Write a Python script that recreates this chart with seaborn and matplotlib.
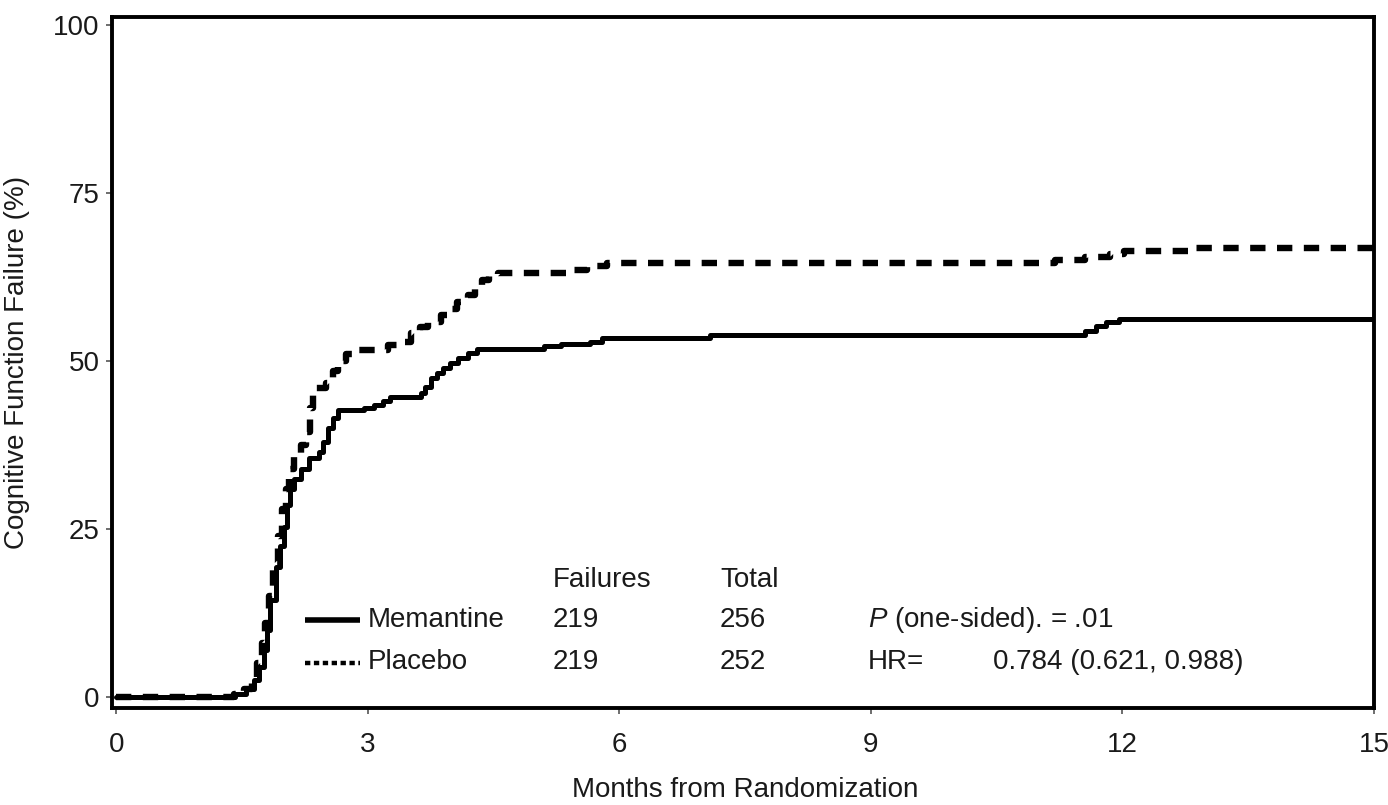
import matplotlib
matplotlib.use("Agg")
import matplotlib.pyplot as plt
import seaborn as sns
import pandas as pd

# ---- data ----
mem_months = [0, 1.42, 1.55, 1.64, 1.70, 1.76, 1.80, 1.84, 1.90, 1.95, 2.00, 2.04, 2.07,
              2.12, 2.20, 2.30, 2.42, 2.47, 2.53, 2.59, 2.65, 2.96, 3.07, 3.18, 3.26,
              3.63, 3.68, 3.75, 3.82, 3.90, 3.98, 4.08, 4.19, 4.30, 5.10, 5.30, 5.65,
              5.79, 7.08, 11.55, 11.68, 11.80, 11.96, 15.0]
mem_fail = [0, 0.5, 1.2, 2.5, 4.5, 7.0, 10.0, 14.4, 19.4, 22.5, 25.3, 28.5, 31.0,
            32.5, 34.0, 35.5, 36.5, 38.0, 40.0, 41.5, 42.7, 43.0, 43.5, 44.0, 44.6,
            45.2, 46.2, 47.4, 48.2, 49.0, 49.7, 50.5, 51.2, 51.8, 52.2, 52.6, 52.9,
            53.5, 53.9, 54.5, 55.2, 55.8, 56.3, 56.3]

pla_months = [0, 1.40, 1.52, 1.62, 1.68, 1.74, 1.78, 1.82, 1.87, 1.93, 1.98, 2.02, 2.06,
              2.12, 2.20, 2.26, 2.31, 2.35, 2.50, 2.58, 2.64, 2.74, 2.90, 3.24, 3.40,
              3.51, 3.62, 3.72, 3.87, 3.97, 4.07, 4.20, 4.28, 4.36, 4.45, 4.55, 5.40,
              5.62, 5.85, 11.20, 11.55, 11.85, 12.02, 12.88, 15.0]
pla_fail = [0, 0.5, 1.2, 2.5, 5.0, 8.0, 11.0, 15.0, 20.0, 24.0, 28.0, 31.0, 34.0,
            36.0, 37.5, 39.5, 43.0, 46.0, 46.8, 48.5, 50.0, 51.0, 51.6, 52.4, 52.8,
            54.2, 55.0, 55.8, 56.8, 57.8, 58.8, 59.8, 60.8, 62.0, 62.6, 63.1, 63.5,
            64.1, 64.6, 65.1, 65.5, 65.9, 66.4, 66.8, 66.8]

groups = ["Memantine", "Placebo"]
failures = ["219", "219"]
totals = ["256", "252"]
x_ticks = [0, 3, 6, 9, 12, 15]
y_ticks = [0, 25, 50, 75, 100]
stat_p = r"$\it{P}$ (one-sided). = .01"
stat_hr_label = "HR="
stat_hr_value = "0.784 (0.621, 0.988)"

# ---- styling ----
sns.set_theme(style="white")
plt.rcParams["font.family"] = ["Liberation Sans", "DejaVu Sans"]
plt.rcParams["mathtext.fontset"] = "custom"
plt.rcParams["mathtext.rm"] = "Liberation Sans"
plt.rcParams["mathtext.it"] = "Liberation Sans:italic"

TXT = "#1a1a1a"
FS = 20

L, R, T, B = 112, 1374, 17, 708
fig = plt.figure(figsize=(13.88, 8.05), dpi=100)
ax = fig.add_axes([L / 1388, 1 - B / 805, (R - L) / 1388, (B - T) / 805])

df_m = pd.DataFrame({"month": mem_months, "fail": mem_fail})
df_p = pd.DataFrame({"month": pla_months, "fail": pla_fail})

sns.lineplot(data=df_m, x="month", y="fail", ax=ax, color="black", lw=3.6,
             drawstyle="steps-post", estimator=None, sort=False)
sns.lineplot(data=df_p, x="month", y="fail", ax=ax, color="black", lw=4.6,
             drawstyle="steps-post", estimator=None, sort=False,
             dashes=False, linestyle=(0, (2.4, 1.8)))

ax.set_xlim(-0.05, 15.0)
ax.set_ylim(-1.64, 101.2)
ax.set_xticks(x_ticks)
ax.set_yticks(y_ticks)
ax.set_xticklabels([str(t) for t in x_ticks], fontsize=FS, color=TXT)
ax.set_yticklabels([str(t) for t in y_ticks], fontsize=FS, color=TXT)
ax.tick_params(axis="both", which="both", direction="out", length=4, width=1.2,
               colors="#555555", labelcolor=TXT, bottom=True, left=True, pad=5)
ax.tick_params(axis="x", pad=13)
for s in ax.spines.values():
    s.set_visible(True)
    s.set_color("black")
    s.set_linewidth(2.8)


def fx(px):
    return (px - L) / (R - L)


def fy(py):
    return (B - py) / (B - T)


ax.set_xlabel("Months from Randomization", fontsize=FS, color=TXT)
ax.set_ylabel("Cognitive Function Failure (%)", fontsize=FS, color=TXT)
ax.xaxis.set_label_coords((745 - L) / (R - L), fy(777))
ax.yaxis.set_label_coords(fx(30), fy(362))

tk = dict(transform=ax.transAxes, fontsize=FS, color=TXT, va="center", ha="left")
# header
ax.text(fx(553), fy(580), "Failures", **tk)
ax.text(fx(720), fy(580), "Total", **tk)
# rows
row_y = [620, 662]
for i, g in enumerate(groups):
    ax.text(fx(368), fy(row_y[i]), g, **tk)
    ax.text(fx(553), fy(row_y[i]), failures[i], **tk)
    ax.text(fx(720), fy(row_y[i]), totals[i], **tk)
ax.text(fx(868), fy(620), stat_p, **tk)
ax.text(fx(868), fy(662), stat_hr_label, **tk)
ax.text(fx(993), fy(662), stat_hr_value, **tk)

# legend line samples
ax.plot([fx(305), fx(360)], [fy(620), fy(620)], transform=ax.transAxes,
        color="black", lw=4.0, solid_capstyle="butt")
ax.plot([fx(305), fx(360)], [fy(663), fy(663)], transform=ax.transAxes,
        color="black", lw=3.2, linestyle=(0, (1.2, 0.8)))

fig.savefig("out.png", dpi=100)
